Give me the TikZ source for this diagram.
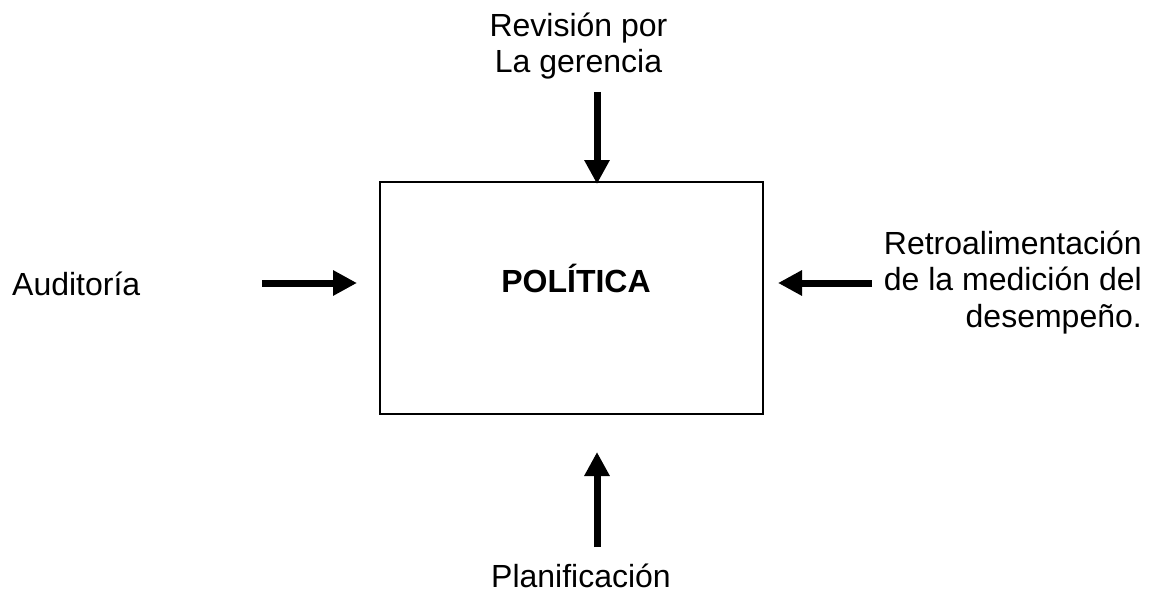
\documentclass[tikz,border=0pt]{standalone}
\usepackage{fontspec}
\setmainfont{Liberation Sans}
\usetikzlibrary{arrows.meta}
\begin{document}
\begin{tikzpicture}[x=1pt,y=-1pt,
  lbl/.style={inner sep=0pt,font=\fontsize{32}{36.5}\selectfont},
  bigarrow/.style={line width=7pt,-{Triangle[width=24pt,length=24pt]}},
  mainbox/.style={draw,line width=2.5pt,minimum width=383pt,minimum height=232pt,inner sep=0pt}]
\useasboundingbox (0,0) rectangle (1152,594);
\node[mainbox] (box) at (571.5,298) {};
\node[lbl,font=\fontsize{32}{36.5}\selectfont\bfseries,anchor=base] (pol) at (576,292) {POLÍTICA};
\node[lbl,anchor=base west] (aud) at (12,295) {Auditoría};
\node[lbl,anchor=base east,align=right] (ret) at (1142,327) {Retroalimentación\\de la medición del\\desempeño.};
\node[lbl,anchor=base,align=center] (rev) at (578.5,73) {Revisión por\\La gerencia};
\node[lbl,anchor=base] (plan) at (581,587) {Planificación};
\coordinate (t1) at (597,92);
\coordinate (t2) at (597,184);
\coordinate (b1) at (597,547);
\coordinate (b2) at (597,452);
\coordinate (l1) at (262,283);
\coordinate (l2) at (357,283);
\coordinate (r1) at (872,283);
\coordinate (r2) at (778,283);
\draw[bigarrow] (t1) -- (t2);
\draw[bigarrow] (b1) -- (b2);
\draw[bigarrow] (l1) -- (l2);
\draw[bigarrow] (r1) -- (r2);
\end{tikzpicture}
\end{document}
